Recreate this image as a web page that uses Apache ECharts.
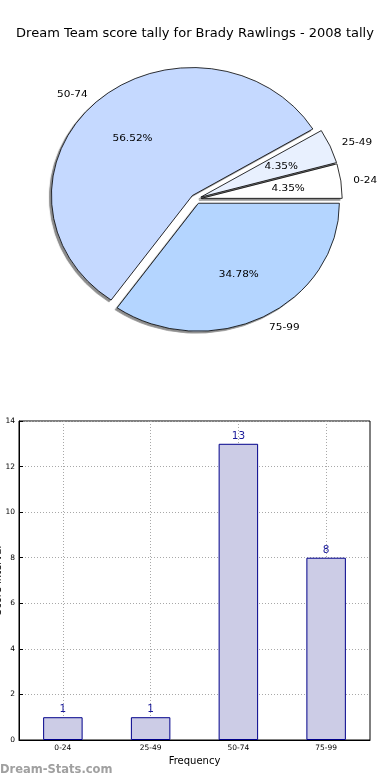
<!DOCTYPE html>
<html><head><meta charset="utf-8">
<script src="https://cdn.jsdelivr.net/npm/echarts@6/dist/echarts.min.js"></script>
<style>
html,body{margin:0;padding:0;background:#fff}
#wrap{position:relative;width:390px;height:780px;overflow:hidden}
#c{position:absolute;left:0;top:0;width:390px;height:780px}
#p{position:absolute;left:0;top:0;width:390px;height:400px;transform-origin:196px 199px;transform:scale(1.052,0.955)}
</style>
</head><body><div id="wrap"><div id="c"></div><div id="p"></div></div>
<script>
const titleText = 'Dream Team score tally for Brady Rawlings - 2008 tally';
const categories = ['0-24', '25-49', '50-74', '75-99'];
const counts = [1, 1, 13, 8];
const sliceColors = ['#ffffff', '#e8f0fe', '#c5d9ff', '#b4d5ff'];
const yMin = 0, yMax = 14, yStep = 2;
const xAxisName = 'Frequency';
const yAxisName = 'Score interval';
const watermark = 'Dream-Stats.com';

const FONT = 'DejaVu Sans';
const chart = echarts.init(document.getElementById('c'), null, {renderer: 'canvas'});
const pieChart = echarts.init(document.getElementById('p'), null, {renderer: 'svg'});

const pieData = categories.map((c, i) => ({
  name: c, value: counts[i], selected: true,
  itemStyle: {color: sliceColors[i]}
}));
const ghostData = categories.map((c, i) => ({
  name: c, value: counts[i], selected: true
}));

const pieCenter = [196, 199];
const pieR = 134;
const gridDash = {type: [1, 2], color: '#a8a8a8', width: 1};

chart.setOption({
  animation: false,
  backgroundColor: '#fff',
  textStyle: {fontFamily: FONT},
  title: {
    text: titleText, left: 'center', top: 22,
    textStyle: {fontFamily: FONT, fontSize: 13, fontWeight: 'normal', color: '#000'}
  },
  graphic: [{
    type: 'text', left: 0, top: 764,
    style: {text: watermark, fill: '#a0a0a0', font: 'bold 11.5px "DejaVu Sans"'}
  }],
  grid: {left: 19, right: 20, top: 421, bottom: 40, show: true, borderColor: '#000', borderWidth: 1,
    containLabel: false, outerBoundsMode: 'none'},
  xAxis: {
    type: 'category', data: categories,
    axisLine: {lineStyle: {color: '#000'}},
    axisTick: {inside: true, alignWithLabel: true, length: 4, lineStyle: {color: '#000'}},
    axisLabel: {fontSize: 7.5, color: '#000', margin: 4, fontFamily: FONT},
    splitLine: {show: true, alignWithLabel: true, lineStyle: gridDash},
    name: xAxisName, nameLocation: 'middle', nameGap: 16, nameMoveOverlap: false,
    nameTextStyle: {fontSize: 10, color: '#000', fontFamily: FONT}
  },
  yAxis: {
    type: 'value', min: yMin, max: yMax, interval: yStep,
    axisLine: {show: true, lineStyle: {color: '#000'}},
    axisTick: {show: true, inside: true, length: 4, lineStyle: {color: '#000'}},
    axisLabel: {fontSize: 7.5, color: '#000', margin: 4, fontFamily: FONT},
    splitLine: {show: true, lineStyle: gridDash},
    name: yAxisName, nameLocation: 'middle', nameGap: 16, nameRotate: 90, nameMoveOverlap: false,
    nameTextStyle: {fontSize: 10, color: '#000', fontFamily: FONT}
  },
  series: [
    {
      type: 'bar', data: counts, barWidth: '45%',
      itemStyle: {color: '#ccccE6', borderColor: '#00008b', borderWidth: 1},
      label: {show: true, position: 'top', distance: 2, fontSize: 10.5, color: '#1a1a9a', fontFamily: FONT},
      emphasis: {disabled: true}
    }
  ]
});

pieChart.setOption({
  animation: false,
  textStyle: {fontFamily: FONT},
  series: [
    {
      type: 'pie', center: pieCenter, radius: pieR,
      startAngle: 0, clockwise: false,
      selectedMode: 'multiple', selectedOffset: 5,
      avoidLabelOverlap: false,
      data: pieData,
      itemStyle: {borderColor: '#000', borderWidth: 0.8,
        shadowBlur: 1, shadowOffsetX: -2, shadowOffsetY: 2, shadowColor: 'rgba(0,0,0,0.45)'},
      label: {show: true, position: 'outside', formatter: '{b}', fontSize: 10, color: '#000',
        fontFamily: FONT, distanceToLabelLine: 0},
      labelLine: {show: false, length: 12, length2: 0},
      emphasis: {disabled: true},
      z: 2
    },
    {
      type: 'pie', center: pieCenter, radius: pieR * 1.2,
      startAngle: 0, clockwise: false,
      selectedMode: 'multiple', selectedOffset: 5,
      avoidLabelOverlap: false, silent: true,
      data: ghostData,
      itemStyle: {color: 'rgba(0,0,0,0)', borderWidth: 0},
      label: {show: true, position: 'inside', formatter: '{d}%', fontSize: 10, color: '#000', fontFamily: FONT},
      labelLine: {show: false},
      emphasis: {disabled: true},
      z: 3
    }
  ]
});
</script>
</body></html>
